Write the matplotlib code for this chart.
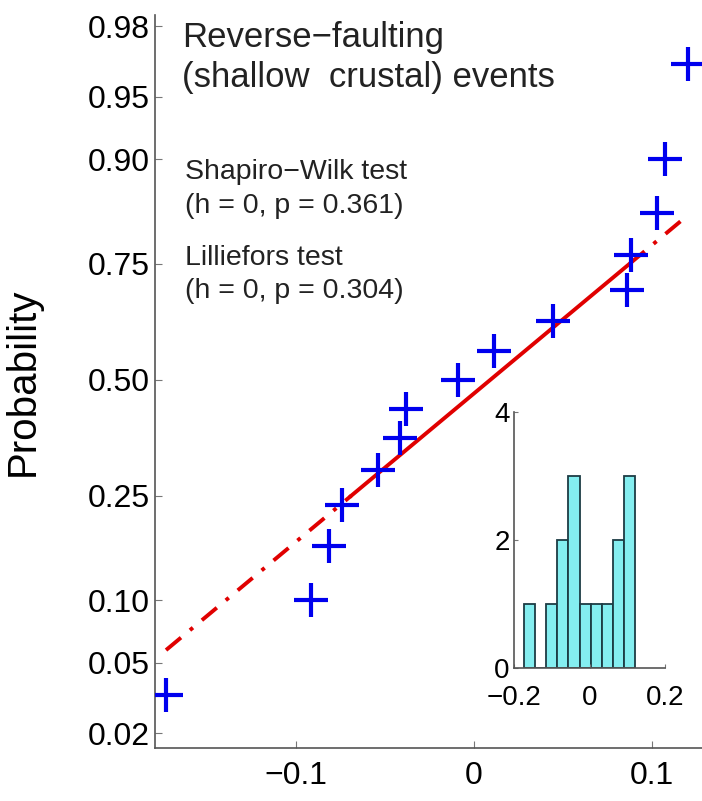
import matplotlib
matplotlib.use("Agg")
import matplotlib.pyplot as plt
import numpy as np
from statistics import NormalDist

plt.rcParams['font.family'] = ['Liberation Sans', 'DejaVu Sans']

# residuals of the reverse-faulting (shallow crustal) events
resid = [-0.173, -0.0916, -0.0815, -0.074, -0.0541, -0.0416, -0.0384,
         -0.0092, 0.0114, 0.0446, 0.0858, 0.0880, 0.1026, 0.1073, 0.1204]

prob_ticks = [0.02, 0.05, 0.10, 0.25, 0.50, 0.75, 0.90, 0.95, 0.98]
prob_labels = ['0.02', '0.05', '0.10', '0.25', '0.50', '0.75', '0.90', '0.95', '0.98']
x_ticks = [-0.1, 0, 0.1]
x_labels = ['\u22120.1', '0', '0.1']

hist_ticks_x = [-0.2, 0, 0.2]
hist_labels_x = ['\u22120.2', '0', '0.2']
hist_ticks_y = [0, 2, 4]

nd = NormalDist()
x = np.sort(np.array(resid))
n = len(x)
pp = (np.arange(1, n + 1) - 0.5) / n
z = np.array([nd.inv_cdf(p) for p in pp])

# reference line through the quartiles, as in normplot
def pct(v, p):
    k = p * len(v) + 0.5
    i = int(np.floor(k))
    return v[i - 1] + (k - i) * (v[i] - v[i - 1])

q1, q3 = pct(x, 0.25), pct(x, 0.75)
z1, z3 = nd.inv_cdf(0.25), nd.inv_cdf(0.75)
slope = (z3 - z1) / (q3 - q1)
line = lambda xx: z1 + slope * (np.asarray(xx) - q1)

fig = plt.figure(figsize=(7.02, 8.01), dpi=100)
ax = fig.add_axes([155 / 702, 1 - 748 / 801, 1 - 155 / 702, (748 - 15) / 801])

red = '#e00000'
dashdot = (0, (5, 3, 1, 3))
xs_lo = np.array([x[0], q1])
xs_mid = np.array([q1, q3])
xs_hi = np.array([q3, x[-1]])
ax.plot(xs_lo, line(xs_lo), color=red, lw=2.8, ls=dashdot)
ax.plot(xs_hi, line(xs_hi), color=red, lw=2.8, ls=dashdot)
ax.plot(xs_mid, line(xs_mid), color=red, lw=2.8)
ax.plot(x, z, '+', color='#0000ee', ms=24, mew=3, zorder=5)

ax.set_xlim(-0.1792, 0.1281)
ax.set_ylim(-2.14, 2.12)
ax.set_yticks([nd.inv_cdf(p) for p in prob_ticks])
ax.set_yticklabels(prob_labels)
ax.set_xticks(x_ticks)
ax.set_xticklabels(x_labels)
for s in ['top', 'right']:
    ax.spines[s].set_visible(False)
for s in ['left', 'bottom']:
    ax.spines[s].set_color('#555555')
    ax.spines[s].set_linewidth(1.2)
ax.tick_params(direction='in', length=5, width=0.8, color='#777777',
               labelsize=23)
ax.tick_params(axis='y', pad=4)
ax.tick_params(axis='x', pad=9)
ax.set_ylabel('Probability', fontsize=29)
ax.yaxis.set_label_coords(-0.207, 0.5)

ax.text(182 / 702, 1 - 38 / 801, 'Reverse\u2212faulting',
        transform=fig.transFigure, fontsize=25, va='center', ha='left',
        color='#222222')
ax.text(182 / 702, 1 - 78 / 801, '(shallow  crustal) events',
        transform=fig.transFigure, fontsize=25, va='center', ha='left',
        color='#222222')

stats_lines = [('Shapiro\u2212Wilk test', 172), ('(h = 0, p = 0.361)', 206),
               ('Lilliefors test', 258), ('(h = 0, p = 0.304)', 291)]
for txt, ypx in stats_lines:
    ax.text(185 / 702, 1 - ypx / 801, txt, transform=fig.transFigure,
            fontsize=20.5, va='center', ha='left', color='#222222')

# inset histogram of the residuals
ins = fig.add_axes([514 / 702, 1 - 668 / 801, 151 / 702, 256 / 801])
ins.patch.set_alpha(0)
ins.hist(x, bins=10, color='#84eef0', edgecolor='#1c3c44', linewidth=1.3)
ins.set_xlim(-0.2, 0.2)
ins.set_ylim(0, 4)
ins.set_xticks(hist_ticks_x)
ins.set_xticklabels(hist_labels_x)
ins.set_yticks(hist_ticks_y)
for s in ['top', 'right']:
    ins.spines[s].set_visible(False)
for s in ['left', 'bottom']:
    ins.spines[s].set_color('#555555')
    ins.spines[s].set_linewidth(1.2)
ins.tick_params(direction='in', length=3, width=0.8, color='#777777',
                labelsize=20)
ins.tick_params(axis='y', pad=3)
ins.tick_params(axis='x', pad=12)

fig.savefig('out.png', dpi=100)
